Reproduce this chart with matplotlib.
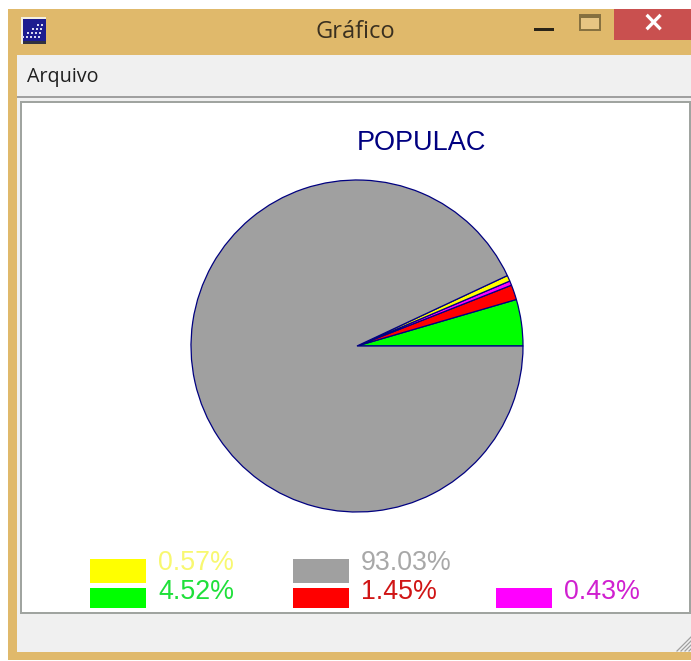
import matplotlib
matplotlib.use('Agg')
import matplotlib.pyplot as plt
from matplotlib.patches import Rectangle

W = 691
H = 661

# values, in pie order starting at 3 o'clock
pie_values = [4.52, 1.45, 0.43, 0.57, 93.03]
pie_colors = ['#00ff00', '#ff0000', '#ff00ff', '#ffff00', '#a0a0a0']
text_colors = ['#1fe03a', '#d01515', '#d020d0', '#f8f870', '#a8a8a8']
pie_labels = ['4.52%', '1.45%', '0.43%', '0.57%', '93.03%']
title = 'POPULAC'
window_title = 'Gráfico'
menu_label = 'Arquivo'

plt.rcParams['font.family'] = ['Liberation Sans', 'DejaVu Sans']

fig = plt.figure(figsize=(W / 100, H / 100), dpi=100)
ax = fig.add_axes([0, 0, 1, 1])


def box(x0, y0, x1, y1, color, **kw):
    # pixel coords with y going down, like the screenshot
    ax.add_patch(Rectangle((x0, H - y1), x1 - x0, y1 - y0, facecolor=color, edgecolor='none', **kw))


def label(x, y, s, color, size, ha='left', family=None, weight='normal'):
    ax.text(x, H - y, s, color=color, fontsize=size, ha=ha, va='center', family=family, weight=weight)


ax.pie(pie_values, colors=pie_colors, startangle=0, counterclock=True,
       center=(357, H - 346), radius=166,
       wedgeprops={'edgecolor': '#000080', 'linewidth': 0.9, 'zorder': 3})

# window frame
box(8, 9, W, 660, '#e0b96b')
box(17, 55, W, 652, '#f0f0f0')
box(17, 96, W, 98, '#a0a0a0')
box(20, 101, W, 614, '#a0a4a0')
box(22, 103, 689, 612, 'white')
box(614, 9, W, 40, '#c9504f')

label(355, 32, window_title, '#3a3020', 17, ha='center', family='Open Sans')
label(27, 77, menu_label, '#202020', 14.2, family='Open Sans')
label(653, 23, '×', 'white', 20, ha='center', family='DejaVu Sans', weight='bold')

# window buttons
box(534, 28, 554, 31, '#2a2418')
ax.add_patch(Rectangle((580, H - 30), 20, 15, facecolor='#e6c583', edgecolor='#85703f', linewidth=1.4))
box(580, 15, 600, 18, '#85703f')

# app icon
box(21, 17, 46, 44, '#f4f0e0')
box(23, 19, 46, 42, '#1c1c90')
box(23, 41, 46, 44, '#303040')
for row in range(4):
    for col in range(row + 2):
        box(41 - col * 4 - row, 24 + row * 4, 43 - col * 4 - row, 26 + row * 4, '#d8d8f0')

# size grip
for i in range(4):
    ax.plot([677 + i * 4, 691], [H - 651, H - 637 - i * 4], color='#a0a0a0', linewidth=0.9)

label(421, 143, title, '#000080', 19.5, ha='center')

# legend
box(90, 559, 146, 583, pie_colors[3])
box(90, 588, 146, 608, pie_colors[0])
box(293, 559, 349, 583, pie_colors[4])
box(293, 588, 349, 608, pie_colors[1])
box(496, 588, 552, 608, pie_colors[2])
label(158, 563, pie_labels[3], text_colors[3], 19.3)
label(158, 592, pie_labels[0], text_colors[0], 19.3)
label(361, 563, pie_labels[4], text_colors[4], 19.3)
label(361, 592, pie_labels[1], text_colors[1], 19.3)
label(564, 592, pie_labels[2], text_colors[2], 19.3)

ax.set_xlim(0, W)
ax.set_ylim(0, H)
ax.set_aspect('auto')
ax.axis('off')
fig.savefig('out.png', dpi=100)
